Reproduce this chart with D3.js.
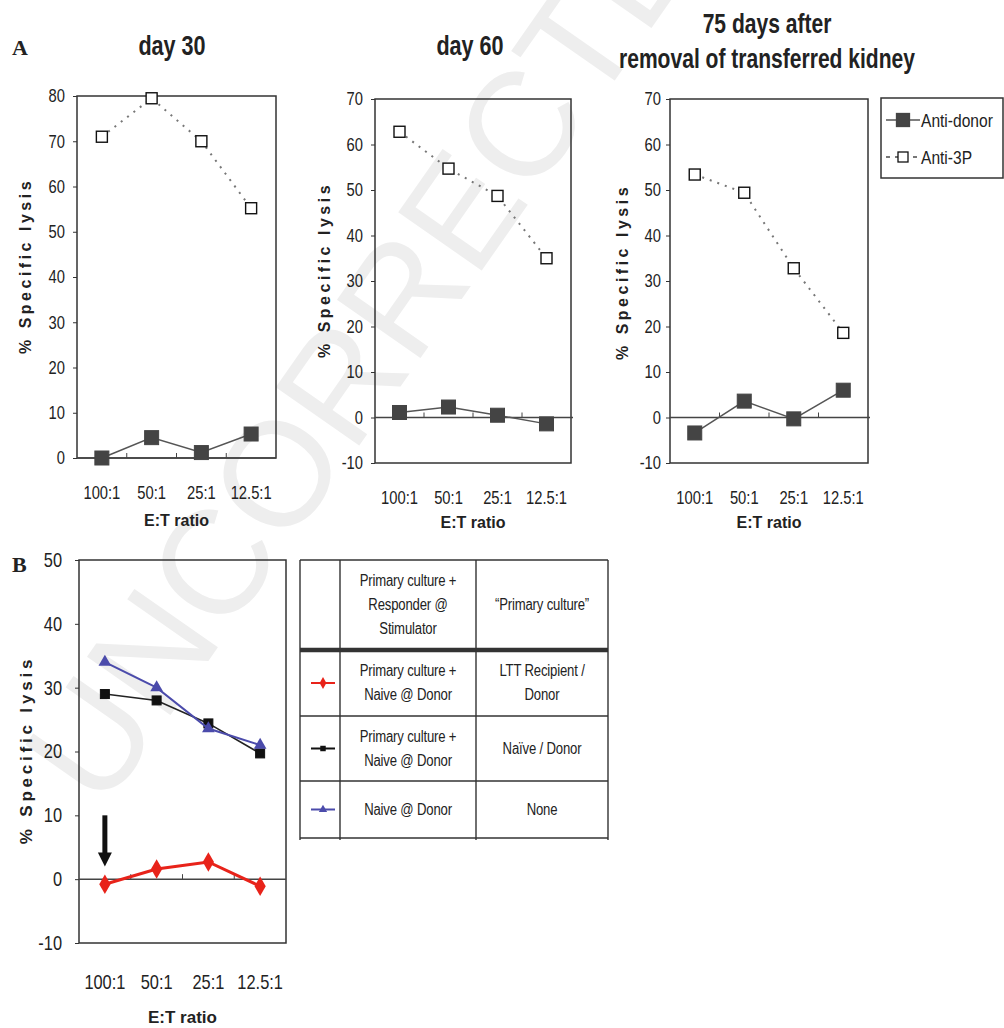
<!DOCTYPE html>
<html>
<meta charset="utf-8">
<style>
  body { margin: 0; background: #fff; }
  text { font-family: "Liberation Sans", Arial, sans-serif; fill: #222; }
  .bold { font-weight: bold; }
  .serif { font-family: "Liberation Serif", "Times New Roman", serif; font-weight: bold; }
</style>
<script src="https://d3js.org/d3.v7.min.js"></script>
<body>
<script>
var ratios = ["100:1", "50:1", "25:1", "12.5:1"];

// panel A: anti-donor (filled squares) and anti-3P (open squares)
var day30Donor = [0, 4.5, 1.2, 5.3];
var day30ThreeP = [71, 79.5, 70, 55.2];
var day60Donor = [1.1, 2.3, 0.5, -1.4];
var day60ThreeP = [62.8, 54.7, 48.7, 35];
var day75Donor = [-3.4, 3.6, -0.3, 6];
var day75ThreeP = [53.4, 49.4, 32.8, 18.6];

// panel B
var naiveDonor = [34, 30, 23.6, 21];          // blue triangles
var primNaiveDonor = [29, 28, 24.4, 19.7];    // black squares
var lttRecipient = [-0.8, 1.6, 2.7, -1.1];    // red diamonds

var ticksA30 = [0, 10, 20, 30, 40, 50, 60, 70, 80];
var ticksA60 = [-10, 0, 10, 20, 30, 40, 50, 60, 70];
var ticksB = [-10, 0, 10, 20, 30, 40, 50];

var legendNames = ["Anti-donor", "Anti-3P"];

var tableHeader = [["Primary culture +", "Responder @", "Stimulator"], ["\u201cPrimary culture\u201d"]];
var tableRows = [
  [["Primary culture +", "Naive @ Donor"], ["LTT Recipient /", "Donor"]],
  [["Primary culture +", "Naive @ Donor"], ["Na\u00efve / Donor"]],
  [["Naive @ Donor"], ["None"]]
];

var SX = 0.82; // horizontal squeeze to imitate a narrow face

var svg = d3.select("body").append("svg")
  .attr("width", 1004)
  .attr("height", 1028);

// narrow text helper
function ntext(parent, x, y, str, size, opts) {
  opts = opts || {};
  return parent.append("text")
    .attr("transform", "translate(" + x + "," + y + ") scale(" + (opts.sx || SX) + ",1)")
    .attr("text-anchor", opts.anchor || "middle")
    .attr("dominant-baseline", opts.baseline || "central")
    .attr("class", opts.cls || null)
    .style("font-size", size + "px")
    .style("letter-spacing", opts.ls ? opts.ls + "px" : null)
    .text(str);
}

// faint watermark
svg.append("text")
  .attr("transform", "translate(60,783) rotate(-55)")
  .attr("dominant-baseline", "central")
  .style("font-size", "148px")
  .style("fill", "#eeeeee")
  .text("UNCORRECTED");

function panel(p) {
  var x = d3.scaleBand().domain(ratios).range([p.left, p.right]);
  var y = d3.scaleLinear().domain(p.domain).range([p.bottom, p.top]);
  var g = svg.append("g");

  g.append("rect")
    .attr("x", p.left).attr("y", p.top)
    .attr("width", p.right - p.left).attr("height", p.bottom - p.top)
    .attr("fill", "none").attr("stroke", "#333").attr("stroke-width", 1.5);

  var ya = g.append("g")
    .attr("transform", "translate(" + p.left + ",0)")
    .call(d3.axisLeft(y).tickValues(p.ticks).tickSize(4).tickPadding(p.pad)
      .tickFormat(function(d) { return String(d); }));
  ya.select(".domain").remove();
  ya.selectAll("line").attr("stroke", "#333");
  ya.selectAll("text")
    .attr("x", -(4 + p.pad) / SX)
    .attr("transform", "scale(" + SX + ",1)")
    .style("font-size", p.fs + "px").style("fill", "#222")
    .style("font-family", "Liberation Sans, Arial, sans-serif");

  // zero line with small ticks between categories
  g.append("line")
    .attr("x1", p.left).attr("x2", p.right + (p.ext || 0))
    .attr("y1", y(0)).attr("y2", y(0))
    .attr("stroke", "#444").attr("stroke-width", 1.5);
  g.selectAll(".mt").data(ratios.slice(1)).join("line")
    .attr("x1", function(d) { return x(d); }).attr("x2", function(d) { return x(d); })
    .attr("y1", y(0)).attr("y2", y(0) - 5)
    .attr("stroke", "#444");

  ratios.forEach(function(d) {
    ntext(g, x(d) + x.bandwidth() / 2, p.bottom + p.lgap, d, p.xfs);
  });

  g.append("text").attr("class", "bold")
    .attr("x", (p.left + p.right) / 2).attr("y", p.bottom + p.tgap)
    .attr("text-anchor", "middle").attr("dominant-baseline", "central")
    .style("font-size", p.lfs + "px")
    .text("E:T ratio");

  g.append("text").attr("class", "bold")
    .attr("transform", "translate(" + p.ylx + "," + p.yly + ") rotate(-90)")
    .attr("text-anchor", "middle")
    .style("font-size", p.lfs + "px")
    .style("letter-spacing", p.ls + "px")
    .text("% Specific lysis");

  return { x: x, y: y, g: g, cx: function(i) { return x(ratios[i]) + x.bandwidth() / 2; } };
}

function series(P, vals, style) {
  var line = d3.line().x(function(d, i) { return P.cx(i); }).y(function(d) { return P.y(d); });
  P.g.append("path").datum(vals)
    .attr("d", line).attr("fill", "none")
    .attr("stroke", style.color).attr("stroke-width", style.width)
    .attr("stroke-dasharray", style.dash || null);
  var m = P.g.selectAll(null).data(vals).enter();
  if (style.marker === "filled" || style.marker === "open" || style.marker === "square") {
    var s = style.size;
    m.append("rect")
      .attr("x", function(d, i) { return P.cx(i) - s / 2; })
      .attr("y", function(d) { return P.y(d) - s / 2; })
      .attr("width", s).attr("height", s)
      .attr("fill", style.marker === "open" ? "#fff" : style.fill)
      .attr("stroke", style.marker === "open" ? "#111" : style.fill)
      .attr("stroke-width", style.marker === "open" ? 1.4 : 1);
  } else {
    var sym = d3.symbol().type(style.marker === "triangle" ? d3.symbolTriangle : d3.symbolDiamond).size(style.size);
    m.append("path")
      .attr("transform", function(d, i) { return "translate(" + P.cx(i) + "," + P.y(d) + ")"; })
      .attr("d", sym)
      .attr("fill", style.fill);
  }
}

var donorStyle = { color: "#555", width: 1.5, marker: "filled", fill: "#444", size: 14 };
var threePStyle = { color: "#777", width: 2, dash: "2,6", marker: "open", size: 11 };

// ---- panel A
var pA1 = panel({ left: 77, right: 276, top: 96, bottom: 458, domain: [0, 80], ticks: ticksA30,
  pad: 8, fs: 18, xfs: 18, lgap: 34, tgap: 62, lfs: 16, ylx: 31, yly: 266, ls: 3.5 });
series(pA1, day30ThreeP, threePStyle);
series(pA1, day30Donor, donorStyle);

var pA2 = panel({ left: 375, right: 571, top: 99, bottom: 463, domain: [-10, 70], ticks: ticksA60,
  pad: 8, fs: 18, xfs: 18, lgap: 34, tgap: 59, lfs: 16, ylx: 330, yly: 270, ls: 3.5, ext: 2 });
series(pA2, day60ThreeP, threePStyle);
series(pA2, day60Donor, donorStyle);

var pA3 = panel({ left: 670, right: 868, top: 99, bottom: 463, domain: [-10, 70], ticks: ticksA60,
  pad: 5, fs: 18, xfs: 18, lgap: 34, tgap: 59, lfs: 16, ylx: 628, yly: 272, ls: 3.5, ext: 2 });
series(pA3, day75ThreeP, threePStyle);
series(pA3, day75Donor, donorStyle);

// titles
svg.append("text").attr("class", "serif").attr("x", 12).attr("y", 55).style("font-size", "22px").text("A");
ntext(svg, 172, 55, "day 30", 27, { cls: "bold", sx: 0.8, baseline: "auto" });
ntext(svg, 470, 55, "day 60", 27, { cls: "bold", sx: 0.8, baseline: "auto" });
ntext(svg, 767, 33, "75 days after", 27, { cls: "bold", sx: 0.78, baseline: "auto" });
ntext(svg, 767, 68, "removal of transferred kidney", 27, { cls: "bold", sx: 0.78, baseline: "auto" });

// legend for A
var lg = svg.append("g");
lg.append("rect").attr("x", 881).attr("y", 98).attr("width", 122).attr("height", 80)
  .attr("fill", "#fff").attr("stroke", "#333").attr("stroke-width", 1.5);
var legStyles = [donorStyle, threePStyle];
legendNames.forEach(function(name, i) {
  var yy = 120 + i * 37, st = legStyles[i];
  lg.append("line").attr("x1", 886).attr("x2", 920).attr("y1", yy).attr("y2", yy)
    .attr("stroke", st.color).attr("stroke-width", st.width).attr("stroke-dasharray", st.dash ? "4,5" : null);
  var s = i === 0 ? 13 : 10;
  lg.append("rect").attr("x", 903 - s / 2).attr("y", yy - s / 2).attr("width", s).attr("height", s)
    .attr("fill", i === 0 ? "#444" : "#fff").attr("stroke", i === 0 ? "#444" : "#111").attr("stroke-width", 1.3);
  ntext(lg, 921, yy, name, 19, { anchor: "start" });
});

// ---- panel B
var pB = panel({ left: 79, right: 286, top: 560, bottom: 943, domain: [-10, 50], ticks: ticksB,
  pad: 13, fs: 20, xfs: 20, lgap: 39, tgap: 74, lfs: 17, ylx: 32, yly: 750, ls: 3.8, ext: 0 });
series(pB, primNaiveDonor, { color: "#222", width: 1.6, marker: "square", fill: "#111", size: 9 });
series(pB, naiveDonor, { color: "#4b4bab", width: 2, marker: "triangle", fill: "#4b4bab", size: 70 });
series(pB, lttRecipient, { color: "#e8231a", width: 3, marker: "diamond", fill: "#e8231a", size: 110 });

svg.append("text").attr("class", "serif").attr("x", 12).attr("y", 572).style("font-size", "22px").text("B");

// arrow pointing to the 100:1 red point
var ax = pB.cx(0), aTop = pB.y(10), aTip = pB.y(2);
svg.append("line").attr("x1", ax).attr("x2", ax).attr("y1", aTop).attr("y2", aTip - 12)
  .attr("stroke", "#111").attr("stroke-width", 5);
svg.append("path")
  .attr("d", "M" + (ax - 7) + "," + (aTip - 14) + "L" + (ax + 7) + "," + (aTip - 14) + "L" + ax + "," + aTip + "Z")
  .attr("fill", "#111");

// ---- table legend for B
var tb = svg.append("g");
var colX = [300, 340, 476, 608];
var rowY = [560, 650, 716, 781, 838];
tb.selectAll(".h").data(rowY).join("line")
  .attr("x1", colX[0]).attr("x2", colX[3])
  .attr("y1", function(d) { return d; }).attr("y2", function(d) { return d; })
  .attr("stroke", "#333").attr("stroke-width", function(d, i) { return i === 1 ? 4.5 : 1.4; });
tb.selectAll(".v").data(colX).join("line")
  .attr("x1", function(d) { return d; }).attr("x2", function(d) { return d; })
  .attr("y1", rowY[0]).attr("y2", rowY[4] + 2)
  .attr("stroke", "#333").attr("stroke-width", 1.4);

function cellText(lines, cx, cy) {
  var h = 24, y0 = cy - (lines.length - 1) * h / 2;
  lines.forEach(function(t, i) {
    ntext(tb, cx, y0 + i * h, t, 16, { ls: -0.2 });
  });
}
var c2 = (colX[1] + colX[2]) / 2, c3 = (colX[2] + colX[3]) / 2;
var hMid = (rowY[0] + rowY[1]) / 2;
cellText(tableHeader[0], c2, hMid);
cellText(tableHeader[1], c3, hMid);
var rowMarks = [
  { color: "#e8231a", type: d3.symbolDiamond, size: 40 },
  { color: "#111", type: d3.symbolSquare, size: 30 },
  { color: "#4b4bab", type: d3.symbolTriangle, size: 30 }
];
tableRows.forEach(function(r, i) {
  var mid = (rowY[i + 1] + rowY[i + 2]) / 2;
  cellText(r[0], c2, mid);
  cellText(r[1], c3, mid);
  var mk = rowMarks[i];
  tb.append("line").attr("x1", 311).attr("x2", 335).attr("y1", mid).attr("y2", mid)
    .attr("stroke", mk.color).attr("stroke-width", 2);
  tb.append("path").attr("transform", "translate(323," + mid + ")")
    .attr("d", d3.symbol().type(mk.type).size(mk.size)).attr("fill", mk.color);
});
</script>
</body>
</html>
